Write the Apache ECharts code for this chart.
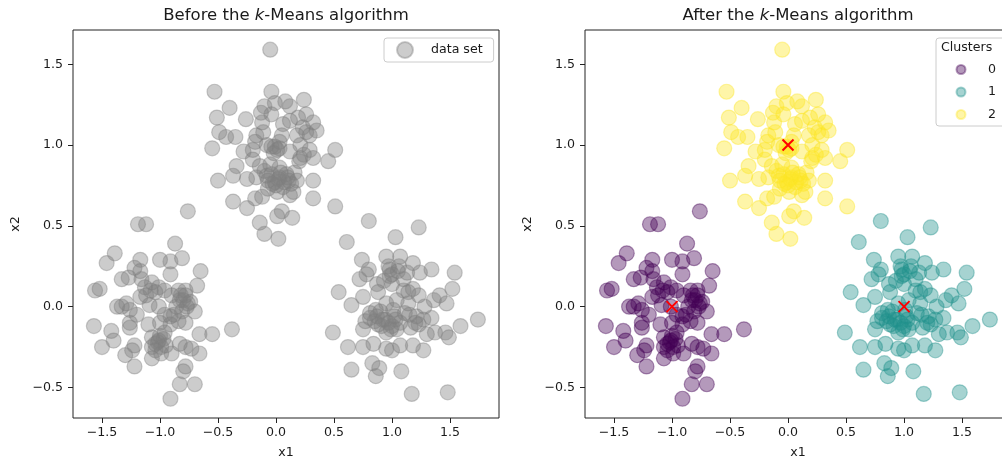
<!DOCTYPE html>
<html>
<head>
<meta charset="utf-8">
<script src="https://cdn.jsdelivr.net/npm/echarts@6/dist/echarts.min.js"></script>
<style>
  body { margin: 0; background: #fff; }
  #chart { width: 1002px; height: 460px; }
</style>
</head>
<body>
<div id="chart"></div>
<script>
// cluster 0 (bottom left)
const cluster0 = [[-0.76,0.59],[-1.19,0.51],[-1.12,0.51],[-0.87,0.39],[-1.39,0.33],[-1.46,0.27],[-1.17,0.29],[-1.00,0.29],[-0.91,0.28],[-0.81,0.30],[-0.65,0.22],[-0.91,0.20],[-1.22,0.24],[-1.33,0.17],[-1.27,0.18],[-1.16,0.17],[-1.07,0.15],[-1.01,0.12],[-0.68,0.13],[-1.56,0.10],[-1.52,0.11],[-1.37,0.00],[-1.29,0.02],[-1.26,-0.02],[-1.17,0.06],[-1.09,0.01],[-1.04,0.09],[-1.01,0.00],[-0.90,0.07],[-0.83,0.04],[-0.78,0.07],[-0.74,0.03],[-0.86,0.00],[-0.77,0.00],[-0.81,-0.03],[-0.91,-0.06],[-1.20,-0.05],[-1.57,-0.12],[-1.26,-0.10],[-1.26,-0.13],[-1.10,-0.11],[-1.00,-0.10],[-0.84,-0.09],[-0.78,-0.10],[-1.42,-0.15],[-1.40,-0.21],[-1.50,-0.25],[-0.66,-0.17],[-0.55,-0.17],[-0.38,-0.14],[-1.07,-0.19],[-1.01,-0.21],[-0.99,-0.25],[-1.07,-0.25],[-1.22,-0.24],[-1.24,-0.27],[-1.30,-0.30],[-1.22,-0.37],[-1.07,-0.32],[-0.99,-0.29],[-0.90,-0.29],[-0.83,-0.23],[-0.78,-0.25],[-0.73,-0.26],[-0.66,-0.29],[-0.78,-0.37],[-0.80,-0.40],[-0.83,-0.48],[-0.70,-0.48],[-0.91,-0.57],[-1.04,-0.23],[-0.96,-0.16],[-0.91,-0.11],[-1.13,0.12],[-0.96,0.10],[-0.84,0.10],[-1.33,0.00],[-0.96,-0.05],[-0.70,-0.03],[-1.17,0.22],
  [-1.02,-0.22],[-0.97,-0.20],[-1.04,-0.27],[-0.95,-0.24],[-1.00,-0.18],[-0.80,0.04],[-0.76,0.02],[-0.82,0.07],[-0.78,0.10],[-1.08,0.10],[-1.12,0.07],[-0.88,-0.05]];
// cluster 1 (bottom right)
const cluster1 = [[0.80,0.53],[1.23,0.49],[0.61,0.40],[1.03,0.43],[0.74,0.29],[0.95,0.31],[1.07,0.31],[0.80,0.23],[0.72,0.17],[0.78,0.20],[1.18,0.27],[1.24,0.21],[1.34,0.23],[1.54,0.21],[0.98,0.23],[1.06,0.25],[1.13,0.21],[0.93,0.16],[1.00,0.14],[0.54,0.09],[0.65,0.01],[0.75,0.06],[0.88,0.09],[1.14,0.09],[1.23,0.07],[1.41,0.07],[1.52,0.11],[1.47,0.02],[1.36,0.04],[1.28,0.00],[1.04,0.04],[0.95,0.02],[0.81,-0.04],[0.87,-0.06],[0.77,-0.09],[0.94,-0.08],[1.00,-0.12],[1.07,-0.10],[1.11,-0.04],[1.21,-0.06],[1.27,-0.08],[1.23,-0.11],[0.49,-0.16],[0.75,-0.14],[0.95,-0.16],[1.04,-0.14],[1.16,-0.13],[1.30,-0.17],[1.37,-0.16],[1.46,-0.16],[1.49,-0.19],[1.59,-0.12],[1.74,-0.08],[0.62,-0.25],[0.75,-0.25],[0.84,-0.23],[0.95,-0.26],[1.00,-0.27],[1.07,-0.24],[1.18,-0.24],[1.27,-0.27],[0.65,-0.39],[0.83,-0.35],[0.89,-0.38],[0.86,-0.43],[1.08,-0.40],[1.17,-0.54],[1.48,-0.53],[0.85,-0.09],[0.90,-0.03],[1.01,-0.02],[1.14,0.02],[0.91,-0.12],[0.98,0.19],[1.10,0.10],[0.87,0.14],[1.34,-0.07],[0.81,-0.07],[1.03,-0.08],[1.18,0.11],
  [0.92,-0.08],[0.97,-0.10],[0.88,-0.11],[1.02,-0.06],[0.99,-0.14],[0.86,-0.02],[1.00,0.20],[1.05,0.22],[0.97,0.25],[1.10,0.17],[1.20,-0.10],[1.15,-0.05]];
// cluster 2 (top)
const cluster2 = [[-0.05,1.59],[-0.53,1.33],[-0.04,1.33],[-0.40,1.23],[0.24,1.28],[0.08,1.27],[-0.10,1.24],[-0.01,1.26],[-0.51,1.17],[-0.26,1.16],[-0.04,1.19],[0.12,1.24],[0.19,1.17],[0.26,1.19],[-0.12,1.14],[0.32,1.14],[0.35,1.09],[-0.49,1.08],[-0.43,1.05],[-0.35,1.05],[-0.55,0.98],[-0.18,1.02],[-0.11,1.08],[-0.01,0.99],[0.03,1.02],[0.18,1.06],[0.26,1.08],[-0.28,0.96],[-0.20,0.91],[0.51,0.97],[0.45,0.90],[0.32,0.92],[0.21,0.92],[0.12,0.96],[-0.34,0.87],[-0.37,0.81],[-0.50,0.78],[-0.25,0.79],[-0.17,0.80],[-0.10,0.84],[-0.04,0.82],[0.03,0.80],[0.11,0.78],[0.18,0.78],[0.32,0.78],[-0.37,0.65],[-0.25,0.61],[-0.18,0.67],[-0.12,0.68],[0.05,0.59],[0.01,0.56],[0.14,0.55],[0.32,0.67],[0.51,0.62],[-0.14,0.52],[-0.10,0.45],[0.02,0.42],[0.12,0.69],[0.01,0.71],[-0.07,0.73],[-0.14,0.87],[-0.05,0.88],[0.03,0.86],[0.09,0.82],[0.16,0.83],[-0.04,0.99],[-0.08,1.00],[0.01,0.97],[0.05,1.06],[0.21,1.00],[0.24,0.94],[0.29,0.97],[0.06,1.13],[0.12,1.15],[0.29,1.06],[-0.17,1.06],[-0.01,0.77],[0.06,0.74],[-0.20,0.97],[-0.07,0.78],
  [0.02,0.79],[0.07,0.77],[-0.03,0.76],[0.10,0.80],[0.04,0.83],[-0.08,0.81],[0.13,0.76],[0.00,0.75],[-0.02,0.95],[0.03,0.98],[0.20,0.90],[0.23,1.11],[-0.13,1.20],[0.15,0.71]];
const centroids = [[-1.0,0.0],[1.0,0.0],[0.0,1.0]];
const clusterNames = ['0','1','2'];
const clusterColors = ['rgba(68,1,84,0.5)','rgba(33,145,140,0.5)','rgba(253,231,37,0.5)'];
const xTicks = [-1.5,-1.0,-0.5,0.0,0.5,1.0,1.5];
const yTicks = [-0.5,0.0,0.5,1.0,1.5];
const xRange = [-1.75, 1.922];
const yRange = [-0.689, 1.712];

const FONT = 'DejaVu Sans';
const TXT = '#1a1a1a';
const fmt = v => (v < 0 ? '\u2212' : '') + Math.abs(v).toFixed(1);

const chartDom = document.getElementById('chart');
const mychart = echarts.init(chartDom, null, { renderer: 'canvas' });

const grids = [
  { left: 73, top: 30, width: 426, height: 388 },
  { left: 585, top: 30, width: 426, height: 388 }
];

const makeX = i => ({
  type: 'value', gridIndex: i, min: xRange[0], max: xRange[1],
  splitLine: { show: false },
  axisLine: { show: false, onZero: false },
  axisTick: { show: true, length: 5, customValues: xTicks, lineStyle: { color: '#222' } },
  axisLabel: { customValues: xTicks, formatter: fmt, color: TXT, fontSize: 12.6, fontFamily: FONT, margin: 8 },
  name: 'x1', nameLocation: 'middle', nameGap: 28,
  nameTextStyle: { color: TXT, fontSize: 12.6, fontFamily: FONT }
});
const makeY = i => ({
  type: 'value', gridIndex: i, min: yRange[0], max: yRange[1],
  splitLine: { show: false },
  axisLine: { show: false, onZero: false },
  axisTick: { show: true, length: 5, customValues: yTicks, lineStyle: { color: '#222' } },
  axisLabel: { customValues: yTicks, formatter: fmt, color: TXT, fontSize: 12.6, fontFamily: FONT, margin: 10 },
  name: 'x2', nameLocation: 'middle', nameGap: 51,
  nameTextStyle: { color: TXT, fontSize: 12.6, fontFamily: FONT }
});

const titleRich = {
  n: { fontSize: 16.5, fontFamily: FONT, color: TXT, fontWeight: 'normal' },
  i: { fontSize: 16.5, fontFamily: FONT, color: TXT, fontWeight: 'normal', fontStyle: 'italic' }
};

const pointStyle = c => ({ color: c, borderColor: c, borderWidth: 1.2 });

const series = [
  {
    name: 'data set', type: 'scatter', xAxisIndex: 0, yAxisIndex: 0,
    data: cluster0.concat(cluster1, cluster2),
    symbolSize: 15,
    itemStyle: pointStyle('rgba(128,128,128,0.5)')
  }
];
[cluster0, cluster1, cluster2].forEach((pts, k) => {
  series.push({
    name: clusterNames[k], type: 'scatter', xAxisIndex: 1, yAxisIndex: 1,
    data: pts, symbolSize: 15,
    itemStyle: pointStyle(clusterColors[k])
  });
});
series.push({
  name: 'centroids', type: 'scatter', xAxisIndex: 1, yAxisIndex: 1,
  data: centroids, symbol: 'path://M0,0L10,10M0,10L10,0', symbolSize: 11, z: 5,
  itemStyle: { color: 'rgba(0,0,0,0)', borderColor: '#ff0000', borderWidth: 2, opacity: 1 }
});

const legendBox = {
  orient: 'vertical',
  backgroundColor: 'rgba(255,255,255,0.8)', borderColor: '#ccc', borderWidth: 1, borderRadius: 3
};

const option = {
  animation: false,
  backgroundColor: '#fff',
  title: [
    { text: '{n|Before the }{i|k}{n|-Means algorithm}', left: 286, top: 7, textAlign: 'center', padding: 0,
      textStyle: { rich: titleRich } },
    { text: '{n|After the }{i|k}{n|-Means algorithm}', left: 798, top: 7, textAlign: 'center', padding: 0,
      textStyle: { rich: titleRich } },
    { text: 'Clusters', left: 941, top: 41, padding: 0,
      textStyle: { fontSize: 12.6, fontWeight: 'normal', fontFamily: FONT, color: TXT } }
  ],
  legend: [
    Object.assign({
      data: ['data set'], left: 384, top: 38,
      padding: [3, 11, 3, 12], itemWidth: 16, itemHeight: 16,
      formatter: name => '{s|}' + name,
      textStyle: { fontSize: 12.6, fontFamily: FONT, color: TXT, rich: { s: { width: 13 } } }
    }, legendBox),
    Object.assign({
      data: clusterNames, left: 936, top: 38,
      padding: [25, 30, 5, 19.5], itemWidth: 9, itemHeight: 9, itemGap: 9.5,
      formatter: name => '{s|}' + name,
      textStyle: { fontSize: 12.6, fontFamily: FONT, color: TXT, rich: { s: { width: 17.5 } } }
    }, legendBox)
  ],
  grid: grids.map(g => Object.assign({ show: true, borderColor: '#222', borderWidth: 1, backgroundColor: 'transparent', containLabel: false, outerBoundsMode: 'none' }, g)),
  xAxis: [makeX(0), makeX(1)],
  yAxis: [makeY(0), makeY(1)],
  series: series
};
mychart.setOption(option);
</script>
</body>
</html>
